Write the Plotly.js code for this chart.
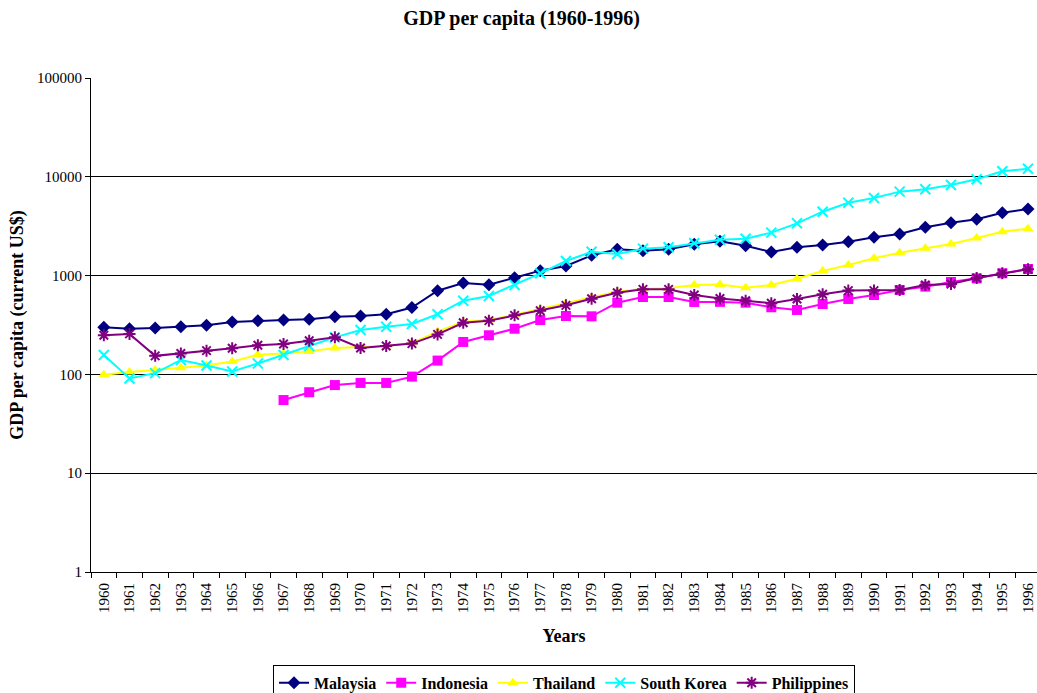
<!DOCTYPE html>
<html>
<head>
<meta charset="utf-8">
<script src="https://cdn.plot.ly/plotly-3.0.1.min.js"></script>
<style>
html,body{margin:0;padding:0;background:#fff;overflow:hidden;}
#chart{width:1037px;height:693px;}
</style>
</head>
<body>
<div id="chart"></div>
<script>
const years = [1960,1961,1962,1963,1964,1965,1966,1967,1968,1969,1970,1971,1972,1973,1974,1975,1976,1977,1978,1979,1980,1981,1982,1983,1984,1985,1986,1987,1988,1989,1990,1991,1992,1993,1994,1995,1996];

const malaysia = [300,290,295,304,314,339,350,356,361,384,390,406,475,703,841,809,953,1122,1250,1603,1845,1785,1845,2075,2230,2009,1734,1933,2041,2205,2442,2636,3082,3435,3715,4335,4723];

const indonesia = [null,null,null,null,null,null,null,55,66,78,82,82,95,138,213,249,290,355,390,387,532,607,607,541,542,532,478,449,516,580,636,715,773,861,938,1055,1166];

const thailand = [99,106,111,117,123,135,158,163,171,185,188,194,207,271,341,355,402,456,525,603,687,731,743,803,812,755,803,930,1113,1280,1496,1705,1888,2089,2404,2784,2985];

const southKorea = [157,91,103,140,123,107,129,157,194,237,281,304,324,406,557,622,803,1055,1405,1745,1655,1874,1933,2123,2310,2365,2720,3382,4435,5470,6105,7075,7480,8265,9440,11380,12080];

const philippines = [249,257,154,163,174,184,197,203,219,237,185,194,205,254,333,350,396,441,500,584,671,726,726,636,586,557,525,580,647,705,705,715,803,822,946,1055,1159];

const seriesNames = ["Malaysia","Indonesia","Thailand","South Korea","Philippines"];
const seriesValues = [malaysia, indonesia, thailand, southKorea, philippines];
const colors = ["#000080","#FF00FF","#FFFF00","#00FFFF","#800080"];
const symbols = ["diamond","square","triangle-up","x-thin-open","asterisk-open"];
const sizes = [10,10,10,10,10];

const xcats = years.map(String);
const traces = seriesNames.map((n,i)=>({
  type:'scatter',
  mode:'lines+markers',
  name:n,
  x:xcats,
  y:seriesValues[i],
  connectgaps:false,
  line:{color:colors[i],width:2},
  marker:{symbol:symbols[i],size:sizes[i],color:colors[i],line:{color:colors[i],width:(i>=3?2:0)}}
}));

const font = "Liberation Serif, Times New Roman, serif";

const layout = {
  width:1037,height:693,
  paper_bgcolor:'#fff',plot_bgcolor:'#fff',
  margin:{l:91,r:0,t:78,b:121,autoexpand:false},
  showlegend:true,
  title:{text:'<b>GDP per capita (1960-1996)</b>',font:{family:font,size:20,color:'#000'},x:0.503,xref:'container',y:0.974,yref:'container',yanchor:'middle'},
  xaxis:{
    type:'category',
    range:[-0.5,36.35],
    tickson:'boundaries',
    ticks:'outside',ticklen:5,tickcolor:'#000',tickwidth:1,
    ticklabelstandoff:4,
    showline:true,linecolor:'#000',linewidth:1,
    showgrid:false,zeroline:false,
    tickangle:-90,
    tickfont:{family:font,size:15,color:'#000'},
    automargin:false,
    title:{text:'<b>Years</b>',font:{family:font,size:18,color:'#000'},standoff:17}
  },
  yaxis:{
    type:'log',
    range:[0,5],
    tickvals:[1,10,100,1000,10000,100000],
    ticktext:['1','10','100','1000','10000','100000'],
    ticks:'outside',ticklen:5,tickcolor:'#000',tickwidth:1,
    showline:true,linecolor:'#000',linewidth:1,
    showgrid:true,gridcolor:'#000',gridwidth:1,
    zeroline:false,
    tickfont:{family:font,size:15,color:'#000'},
    automargin:false,
    title:{text:'<b>GDP per capita (current US$)</b>',font:{family:font,size:18,color:'#000'},standoff:8}
  },
  legend:{
    orientation:'h',
    x:0.5,xanchor:'center',
    y:-0.188,yanchor:'top',
    bordercolor:'#000',borderwidth:1,
    font:{family:font,size:16,color:'#000',weight:'bold'},
    itemwidth:30,
    tracegroupgap:0
  }
};

Plotly.newPlot('chart',traces,layout,{displayModeBar:false,staticPlot:true});
</script>
</body>
</html>
